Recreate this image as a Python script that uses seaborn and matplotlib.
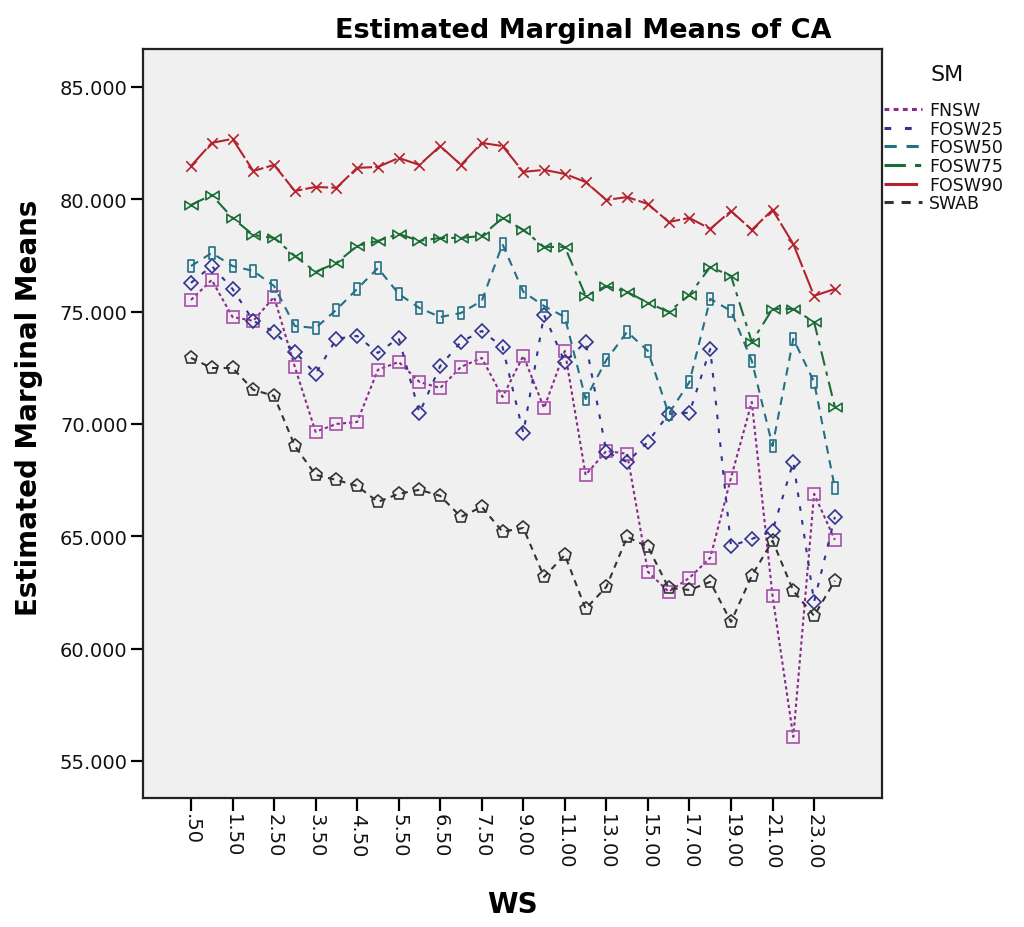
import numpy as np
import pandas as pd
import seaborn as sns
import matplotlib
import matplotlib.pyplot as plt
from matplotlib.path import Path
from matplotlib.lines import Line2D

# WS levels (categorical axis) and estimated marginal means of CA per SM group
ws = [0.5, 1.0, 1.5, 2.0, 2.5, 3.0, 3.5, 4.0, 4.5, 5.0, 5.5, 6.0, 6.5, 7.0, 7.5, 8.0,
      9.0, 10.0, 11.0, 12.0, 13.0, 14.0, 15.0, 16.0, 17.0, 18.0, 19.0, 20.0, 21.0, 22.0, 23.0, 24.0]

fnsw = [75.52, 76.41, 74.76, 74.59, 75.65, 72.54, 69.65, 70.00, 70.09, 72.41, 72.76, 71.87,
        71.60, 72.54, 72.94, 71.20, 73.03, 70.71, 73.25, 67.73, 68.80, 68.67, 63.42, 62.53,
        63.15, 64.04, 67.60, 70.98, 62.35, 56.07, 66.89, 64.84]
fosw25 = [76.28, 77.03, 76.01, 74.59, 74.10, 73.21, 72.23, 73.79, 73.92, 73.16, 73.83, 70.49,
          72.58, 73.65, 74.14, 73.43, 69.60, 74.85, 72.76, 73.65, 68.76, 68.30, 69.20, 70.45,
          70.50, 73.34, 64.57, 64.88, 65.24, 68.31, 62.08, 65.86]
fosw50 = [77.03, 77.61, 77.03, 76.81, 76.14, 74.36, 74.27, 75.08, 76.01, 76.94, 75.79, 75.16,
          74.76, 74.94, 75.48, 78.00, 75.88, 75.25, 74.76, 71.11, 72.85, 74.10, 73.25, 70.45,
          71.87, 75.57, 75.03, 72.81, 69.02, 73.79, 71.87, 67.15]
fosw75 = [79.75, 80.19, 79.17, 78.41, 78.28, 77.48, 76.77, 77.17, 77.92, 78.15, 78.46, 78.15,
          78.28, 78.28, 78.37, 79.17, 78.64, 77.88, 77.88, 75.70, 76.14, 75.88, 75.39, 74.99,
          75.74, 76.99, 76.59, 73.65, 75.12, 75.12, 74.54, 70.76]
fosw90 = [81.48, 82.51, 82.69, 81.26, 81.53, 80.37, 80.55, 80.51, 81.40, 81.44, 81.84, 81.53,
          82.37, 81.53, 82.51, 82.37, 81.22, 81.31, 81.13, 80.77, 79.97, 80.10, 79.79, 78.99,
          79.17, 78.68, 79.48, 78.64, 79.53, 78.01, 75.70, 76.01]
swab = [72.94, 72.49, 72.49, 71.52, 71.25, 69.02, 67.73, 67.51, 67.24, 66.53, 66.89, 67.07,
        66.80, 65.86, 66.31, 65.20, 65.37, 63.19, 64.17, 61.77, 62.75, 64.97, 64.53, 62.70,
        62.61, 62.97, 61.19, 63.24, 64.80, 62.57, 61.46, 63.02]

groups = ['FNSW', 'FOSW25', 'FOSW50', 'FOSW75', 'FOSW90', 'SWAB']
series = [fnsw, fosw25, fosw50, fosw75, fosw90, swab]

rows = []
for g, vals in zip(groups, series):
    for i, v in enumerate(vals):
        rows.append({'pos': i, 'WS': ws[i], 'SM': g, 'CA': v})
df = pd.DataFrame(rows)

# styling
line_colors = {'FNSW': '#8a2b8c', 'FOSW25': '#33338f', 'FOSW50': '#236f84',
               'FOSW75': '#1b6d37', 'FOSW90': '#b3222d', 'SWAB': '#333333'}
marker_colors = dict(line_colors, FNSW='#a650aa')

bowtie = Path([(-1, 0.65), (-1, -0.65), (1, 0.65), (1, -0.65), (-1, 0.65)],
              [Path.MOVETO, Path.LINETO, Path.LINETO, Path.LINETO, Path.CLOSEPOLY])
slim_rect = Path([(-0.55, -1), (0.55, -1), (0.55, 1), (-0.55, 1), (-0.55, -1)],
                 [Path.MOVETO, Path.LINETO, Path.LINETO, Path.LINETO, Path.CLOSEPOLY])
cross = Path([(-1, -1), (1, 1), (-1, 1), (1, -1)],
             [Path.MOVETO, Path.LINETO, Path.MOVETO, Path.LINETO])
markers = {'FNSW': 's', 'FOSW25': 'D', 'FOSW50': slim_rect, 'FOSW75': bowtie,
           'FOSW90': cross, 'SWAB': 'p'}
msizes = {'FNSW': 8, 'FOSW25': 7.5, 'FOSW50': 8, 'FOSW75': 9.5, 'FOSW90': 7.5, 'SWAB': 9.5}
dashes = {'FNSW': (1.6, 1.4), 'FOSW25': (2.2, 4.5), 'FOSW50': (4, 3.2),
          'FOSW75': (7, 3, 2, 3), 'FOSW90': (11, 1.5), 'SWAB': (3, 2.6)}

sns.set_style('ticks')
plt.rcParams['font.family'] = ['DejaVu Sans']
plt.rcParams['text.color'] = 'black'

fig = plt.figure(figsize=(10.24, 9.28), dpi=100)
ax = fig.add_axes([143 / 1024, 1 - 799 / 928, (882 - 143) / 1024, (799 - 50) / 928])
ax.set_facecolor('#f0f0f0')

sns.lineplot(data=df, x='pos', y='CA', hue='SM', style='SM', hue_order=groups,
             style_order=groups, palette=line_colors, markers=markers, dashes=dashes,
             estimator=None, linewidth=1.5, legend=False, ax=ax)

for line, g in zip(ax.lines, groups):
    line.set_markerfacecolor('none')
    line.set_markeredgecolor(marker_colors[g])
    line.set_markeredgewidth(1.2)
    line.set_markersize(msizes[g])

ax.set_xlim(-2.31, 33.27)
ax.set_ylim(53.35, 86.69)

tick_pos = list(range(0, len(ws), 2))
tick_lab = [f'{ws[i]:.2f}'.lstrip('0') for i in tick_pos]
ax.set_xticks(tick_pos)
ax.set_xticklabels(tick_lab, rotation=270)
yt = [55, 60, 65, 70, 75, 80, 85]
ax.set_yticks(yt)
ax.set_yticklabels([f'{v:.3f}' for v in yt])
ax.tick_params(axis='both', direction='out', length=9, width=1.6, color='black',
               labelsize=14, pad=2, labelcolor='#111111')
for s in ax.spines.values():
    s.set_visible(True)
    s.set_color('#222222')
    s.set_linewidth(1.6)
ax.set_xlabel('')
ax.set_ylabel('')

fig.text(583 / 1024, 1 - 38 / 928, 'Estimated Marginal Means of CA', ha='center',
         va='baseline', fontsize=19.5, fontweight='bold', color='black')
fig.text(512 / 1024, 1 - 913 / 928, 'WS', ha='center', va='baseline',
         fontsize=20, fontweight='bold', color='black')
fig.text(29 / 1024, 1 - 408 / 928, 'Estimated Marginal Means', ha='center', va='center',
         rotation=90, fontsize=20, fontweight='bold', color='black')

# legend: title placed separately to get the wider gap of the original
fig.text(947 / 1024, 1 - 75 / 928, 'SM', ha='center', va='center', fontsize=16,
         color='#111111')
handles = [Line2D([0], [0], color=line_colors[g], lw=2.2, dashes=dashes[g]) for g in groups]
leg = fig.legend(handles, groups, loc='upper left',
                 bbox_to_anchor=(884 / 1024, 1 - 102 / 928), frameon=False, fontsize=12.5,
                 handlelength=2.2, handletextpad=0.4,
                 labelspacing=0.04, borderpad=0, borderaxespad=0)
for t in leg.get_texts():
    t.set_color('#111111')

fig.savefig('out.png', dpi=100)
